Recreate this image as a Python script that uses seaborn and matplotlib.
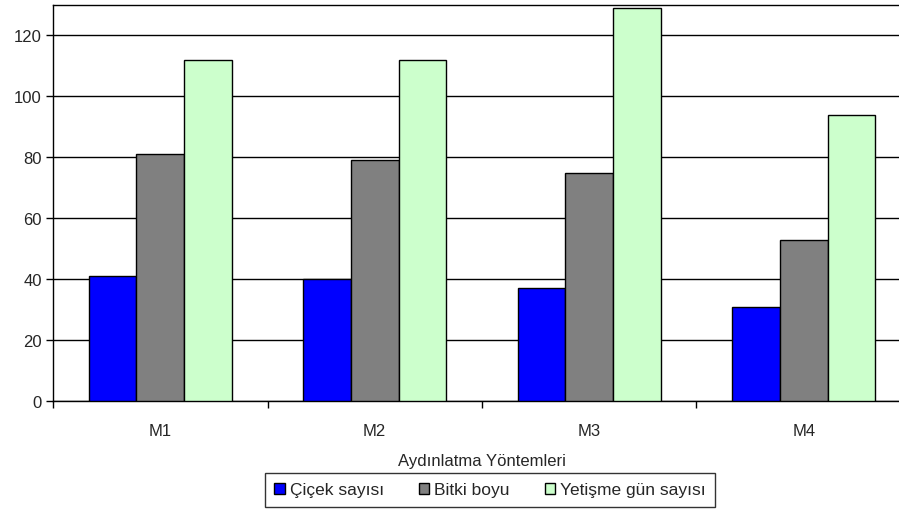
import numpy as np
import pandas as pd
import seaborn as sns
import matplotlib.pyplot as plt
from matplotlib.ticker import FixedLocator

# veri
yontemler = ['M1', 'M2', 'M3', 'M4']
cicek_sayisi = [41, 40, 37, 31]
bitki_boyu = [81, 79, 75, 53]
yetisme_gun = [112, 112, 129, 94]
seriler = ['Çiçek sayısı', 'Bitki boyu', 'Yetişme gün sayısı']
renkler = ['#0000ff', '#808080', '#ccffcc']

df = pd.DataFrame({
    'yontem': yontemler * 3,
    'seri': [s for s in seriler for _ in yontemler],
    'deger': cicek_sayisi + bitki_boyu + yetisme_gun,
})

sns.set_style('white')
plt.rcParams['font.family'] = ['Liberation Sans', 'DejaVu Sans']

fig = plt.figure(figsize=(8.99, 5.10), dpi=100)
ax = fig.add_axes([53 / 899, 1 - 402 / 510, (911 - 53) / 899, (402 - 6) / 510])

sns.barplot(data=df, x='yontem', y='deger', hue='seri', palette=renkler,
            width=0.667, edgecolor='black', linewidth=1, saturation=1,
            ax=ax, legend=True, zorder=3)

ax.set_xlim(-0.5, 3.5)
ax.set_ylim(0, 130)
ax.set_yticks(range(0, 121, 20))
ax.yaxis.grid(True, color='black', linewidth=1, zorder=0)
ax.set_axisbelow(True)

ax.xaxis.set_minor_locator(FixedLocator([-0.5, 0.5, 1.5, 2.5, 3.5]))
ax.tick_params(axis='x', which='major', length=0, pad=16, labelsize=12)
ax.tick_params(axis='x', which='minor', length=5, width=1, color='black', direction='out', bottom=True)
ax.tick_params(axis='y', length=5, width=1, color='black', direction='out', left=True, labelsize=12, pad=3)

for side in ['left', 'bottom', 'top']:
    ax.spines[side].set_color('black')
    ax.spines[side].set_linewidth(1)
ax.spines['right'].set_visible(False)

ax.set_ylabel('')
ax.set_xlabel('Aydınlatma Yöntemleri', fontsize=12, labelpad=11)

handles, labels = ax.get_legend_handles_labels()
ax.get_legend().remove()
leg = fig.legend(handles, labels, loc='lower center', bbox_to_anchor=(490 / 899, 2 / 510),
                 ncol=3, frameon=True, fancybox=False, edgecolor='black',
                 fontsize=12.5, handlelength=0.6, handleheight=0.6, handletextpad=0.3,
                 columnspacing=2.0, borderpad=0.55, borderaxespad=0)
leg.get_frame().set_linewidth(1)

fig.savefig('out.png', dpi=100)
